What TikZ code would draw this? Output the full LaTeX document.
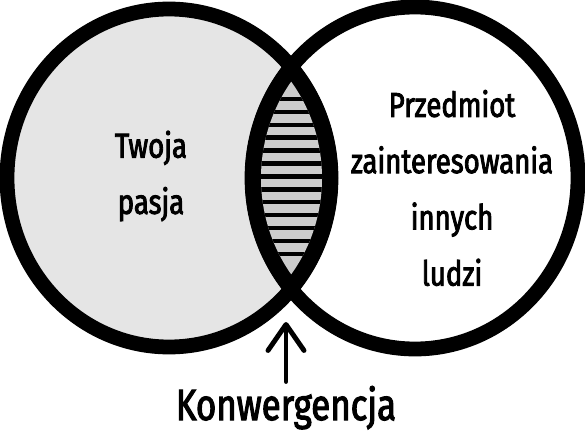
\documentclass[tikz,border=0pt]{standalone}
\usepackage{fontspec}
\setmainfont{Fira Sans}[FakeStretch=0.8, FakeBold=2.5]
\usetikzlibrary{arrows.meta}
\definecolor{ink}{RGB}{0,0,0}
\definecolor{pasjafill}{RGB}{229,229,229}
\definecolor{stripe}{RGB}{204,204,204}
\tikzset{
  ring/.style={draw=ink, line width=10.5pt},
  lbl/.style={font=\fontsize{24.5}{40}\selectfont, align=center, text=ink, inner sep=5pt},
  biglbl/.style={lbl, font=\fontsize{31}{40}\selectfont, inner sep=3pt},
  arr/.style={-{Straight Barb[length=6.5mm, width=9mm, round]}, line width=3.5pt, line cap=round, draw=ink},
}

\begin{document}
\begin{tikzpicture}[x=0.025cm, y=-0.025cm]
  \useasboundingbox (0,0) rectangle (585,433);

  % the two sets
  \fill[pasjafill] (169,178) ellipse [x radius=162, y radius=169];
  \fill[white] (415,178) ellipse [x radius=163, y radius=171];

  % striped overlap
  \begin{scope}
    \clip (169,178) ellipse [x radius=169, y radius=176];
    \fill[ink] (415,178) ellipse [x radius=170, y radius=178];
    \clip (169,178) ellipse [x radius=153, y radius=160];
    \clip (415,178) ellipse [x radius=154, y radius=162];
    \fill[stripe] (240,60) rectangle (345,300);
    \foreach \k in {0,...,12}
      \draw[ink, line width=3.2pt] (240,99+12.9*\k) -- (345,99+12.9*\k);
  \end{scope}

  \draw[ring] (169,178) ellipse [x radius=162, y radius=169];
  \draw[ring] (415,178) ellipse [x radius=163, y radius=171];

  \node[lbl] (pasja) at (151,176) {Twoja\\pasja};
  \node[lbl] (inni) at (452,188) {Przedmiot\\zainteresowania\\innych\\ludzi};
  \node[biglbl, anchor=base] (konw) at (286,420) {Konwergencja};

  \coordinate (meet) at (286,322);
  \draw[arr] (konw) -- (meet);
\end{tikzpicture}
\end{document}
